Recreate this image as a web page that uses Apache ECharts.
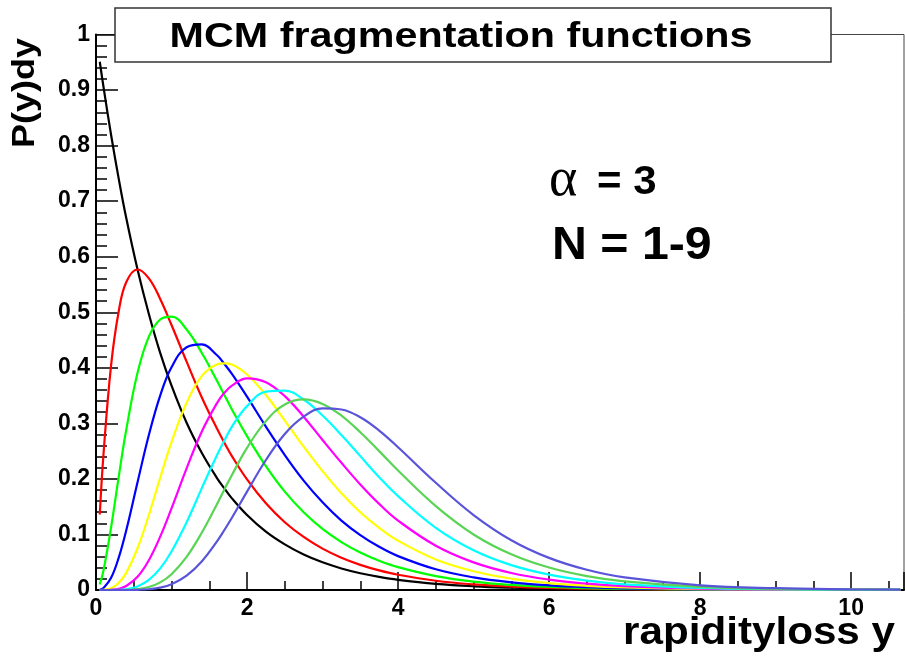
<!DOCTYPE html>
<html>
<head>
<meta charset="utf-8">
<script src="https://cdn.jsdelivr.net/npm/echarts@6/dist/echarts.min.js"></script>
<style>html,body{margin:0;padding:0;background:#fff;}#c{width:905px;height:662px;}</style>
</head>
<body>
<div id="c"></div>
<script>
const xs = [0.05, 0.1, 0.2, 0.3, 0.4, 0.55, 0.7, 0.85, 1.0, 1.2, 1.4, 1.6, 1.7, 1.8, 2.0, 2.25, 2.5, 2.75, 3.0, 3.25, 3.5, 3.75, 4.0, 4.5, 5.0, 5.5, 6.0, 6.5, 7.0, 8.0, 9.0, 10.0, 10.65];
const n1 = [0.951, 0.905, 0.819, 0.741, 0.670, 0.577, 0.497, 0.427, 0.368, 0.301, 0.247, 0.202, 0.183, 0.165, 0.135, 0.105, 0.0821, 0.0639, 0.0498, 0.0388, 0.0302, 0.0235, 0.0183, 0.0111, 0.0067, 0.0041, 0.0025, 0.0015, 0.0009, 0.0003, 0.0001, 0.0000, 0.0000];
const n2 = [0.136, 0.246, 0.405, 0.501, 0.554, 0.577, 0.561, 0.524, 0.477, 0.411, 0.347, 0.291, 0.265, 0.241, 0.199, 0.156, 0.122, 0.0955, 0.0745, 0.0581, 0.0453, 0.0353, 0.0275, 0.0167, 0.0101, 0.0061, 0.0037, 0.0023, 0.0014, 0.0005, 0.0002, 0.0001, 0.0000];
const n3 = [0.010, 0.0357, 0.113, 0.203, 0.288, 0.391, 0.456, 0.487, 0.492, 0.469, 0.427, 0.377, 0.351, 0.325, 0.277, 0.223, 0.177, 0.140, 0.110, 0.0863, 0.0674, 0.0527, 0.0411, 0.0250, 0.0152, 0.0092, 0.0056, 0.0034, 0.0021, 0.0008, 0.0003, 0.0001, 0.0001];
const n4 = [0.0005, 0.0035, 0.0219, 0.0578, 0.107, 0.194, 0.279, 0.350, 0.401, 0.437, 0.442, 0.423, 0.407, 0.389, 0.348, 0.294, 0.243, 0.197, 0.158, 0.125, 0.0989, 0.0778, 0.0610, 0.0373, 0.0227, 0.0138, 0.0084, 0.0051, 0.0031, 0.0011, 0.0004, 0.0002, 0.0001];
const n5 = [0.0000, 0.0003, 0.0032, 0.0126, 0.0308, 0.0752, 0.135, 0.202, 0.266, 0.337, 0.385, 0.406, 0.408, 0.406, 0.388, 0.351, 0.305, 0.258, 0.214, 0.174, 0.140, 0.112, 0.0888, 0.0550, 0.0338, 0.0206, 0.0125, 0.0076, 0.0046, 0.0017, 0.0006, 0.0002, 0.0001];
const n6 = [0.0000, 0.0000, 0.0004, 0.0022, 0.0072, 0.0238, 0.0537, 0.0961, 0.147, 0.219, 0.285, 0.336, 0.355, 0.368, 0.381, 0.374, 0.349, 0.312, 0.270, 0.229, 0.190, 0.155, 0.125, 0.0797, 0.0497, 0.0306, 0.0187, 0.0114, 0.0069, 0.0025, 0.0009, 0.0003, 0.0002];
const n7 = [0.0000, 0.0000, 0.0000, 0.0003, 0.0014, 0.0064, 0.0181, 0.0389, 0.0694, 0.122, 0.183, 0.242, 0.269, 0.294, 0.331, 0.357, 0.359, 0.343, 0.314, 0.279, 0.241, 0.203, 0.169, 0.112, 0.0716, 0.0448, 0.0277, 0.0169, 0.0103, 0.0038, 0.0014, 0.0005, 0.0003];
const n8 = [0.0000, 0.0000, 0.0000, 0.0000, 0.0002, 0.0015, 0.0053, 0.0137, 0.0285, 0.0597, 0.103, 0.154, 0.181, 0.207, 0.256, 0.304, 0.334, 0.343, 0.335, 0.314, 0.284, 0.250, 0.215, 0.151, 0.100, 0.0643, 0.0404, 0.0250, 0.0154, 0.0057, 0.0021, 0.0008, 0.0004];
const n9 = [0.0000, 0.0000, 0.0000, 0.0000, 0.0000, 0.0003, 0.0014, 0.0042, 0.0103, 0.0258, 0.0514, 0.0871, 0.108, 0.130, 0.177, 0.234, 0.281, 0.312, 0.327, 0.325, 0.311, 0.287, 0.257, 0.193, 0.135, 0.0897, 0.0578, 0.0364, 0.0226, 0.0085, 0.0032, 0.0012, 0.0006];
const seriesValues = [n1, n2, n3, n4, n5, n6, n7, n8, n9];
const seriesNames = ['N=1', 'N=2', 'N=3', 'N=4', 'N=5', 'N=6', 'N=7', 'N=8', 'N=9'];
const colors = ['#000000', '#ff0000', '#00ff00', '#0000ff', '#ffff00', '#ff00ff', '#00ffff', '#59d454', '#5954d9'];
const xTicks = [0, 2, 4, 6, 8, 10];
const yTicks = [0, 0.1, 0.2, 0.3, 0.4, 0.5, 0.6, 0.7, 0.8, 0.9, 1];

const chart = echarts.init(document.getElementById('c'), null, {renderer: 'canvas'});
const labelFont = {fontFamily: 'Liberation Sans', fontWeight: 'bold', fontSize: 23, color: '#000'};
chart.setOption({
  animation: false,
  backgroundColor: '#fff',
  grid: {left: 96, right: 1, top: 34.5, bottom: 72, show: true, borderColor: '#444', borderWidth: 1, backgroundColor: 'transparent'},
  xAxis: {
    type: 'value', min: 0, max: 10.7, interval: 2,
    axisLine: {show: true, onZero: false, lineStyle: {color: '#000', width: 2}},
    axisTick: {show: true, inside: true, length: 18, lineStyle: {color: '#000', width: 1.5}},
    minorTick: {show: true, splitNumber: 4, length: 9, lineStyle: {color: '#000', width: 1.5}},
    splitLine: {show: false},
    axisLabel: Object.assign({margin: 7, showMaxLabel: false, formatter: v => xTicks.includes(v) ? String(v) : ''}, labelFont)
  },
  yAxis: {
    type: 'value', min: 0, max: 1, interval: 0.1,
    axisLine: {show: true, onZero: false, lineStyle: {color: '#000', width: 2}},
    axisTick: {show: true, inside: true, length: 22, lineStyle: {color: '#000', width: 1.5}},
    minorTick: {show: true, splitNumber: 5, length: 11, lineStyle: {color: '#000', width: 1.5}},
    splitLine: {show: false},
    axisLabel: Object.assign({margin: 6, formatter: v => {
      const r = Math.round(v * 10) / 10;
      return yTicks.includes(r) ? String(r) : '';
    }}, labelFont)
  },
  series: seriesValues.map((vals, i) => ({
    name: seriesNames[i],
    type: 'line',
    data: xs.map((x, j) => [x, vals[j]]),
    showSymbol: false,
    symbol: 'none',
    smooth: 0.4,
    lineStyle: {color: colors[i], width: 2.2},
    itemStyle: {color: colors[i]},
    z: 2 + i
  })),
  graphic: [
    {type: 'rect', z: 100, shape: {x: 115, y: 8, width: 716, height: 54}, style: {fill: '#fff', stroke: '#333', lineWidth: 1.5}},
    {type: 'text', z: 101, x: 461, y: 37.5, scaleX: 1.18, style: {text: 'MCM fragmentation functions', font: 'bold 35px "Liberation Sans"', fill: '#000', align: 'center', verticalAlign: 'middle'}},
    {type: 'text', z: 101, x: 25.5, y: 93, rotation: Math.PI / 2, scaleX: 1.125, style: {text: 'P(y)dy', font: 'bold 32px "Liberation Sans"', fill: '#000', align: 'center', verticalAlign: 'middle'}},
    {type: 'text', z: 101, x: 895, y: 634, scaleX: 1.11, style: {text: 'rapidityloss y', font: 'bold 38px "Liberation Sans"', fill: '#000', align: 'right', verticalAlign: 'middle'}},
    {type: 'text', z: 101, x: 549, y: 181, style: {text: 'α', font: '54px "Liberation Serif"', fill: '#000', align: 'left', verticalAlign: 'middle'}},
    {type: 'text', z: 101, x: 597, y: 182.5, scaleX: 1.05, style: {text: '= 3', font: 'bold 40px "Liberation Sans"', fill: '#000', align: 'left', verticalAlign: 'middle'}},
    {type: 'text', z: 101, x: 552, y: 246.5, scaleX: 1.05, style: {text: 'N = 1-9', font: 'bold 46px "Liberation Sans"', fill: '#000', align: 'left', verticalAlign: 'middle'}}
  ]
});
</script>
</body>
</html>
